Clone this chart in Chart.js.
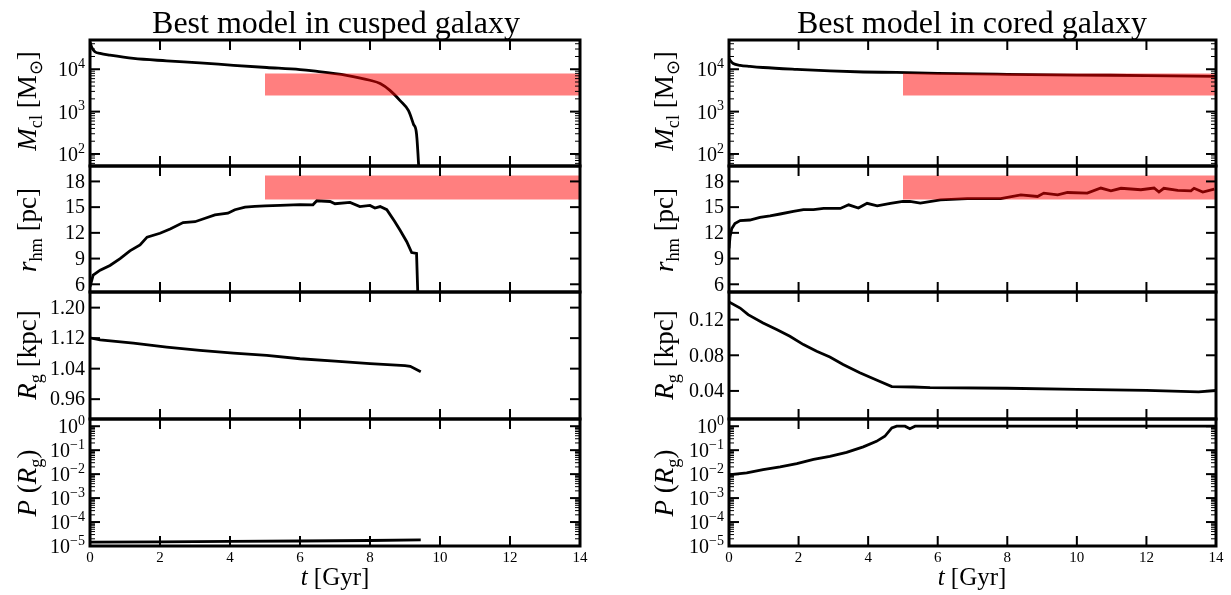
<!DOCTYPE html>
<html lang="en">
<head>
<meta charset="UTF-8">
<title>Best model in cusped / cored galaxy</title>
<script src="https://cdn.jsdelivr.net/npm/chart.js"></script>
<style>
    body { margin: 0; background: #fff; }
    #page { position: relative; width: 1231px; height: 595px; overflow: hidden; font-family: "Liberation Serif", serif; color: #000; }
    canvas { position: absolute; }
    .txt { position: absolute; white-space: nowrap; transform: translate(-50%, -50%); z-index: 2; }
    .rot { transform: translate(-50%, -50%) rotate(-90deg); }
    .sub { font-size: 0.68em; position: relative; top: 0.3em; }
    .title { font-size: 32px; }
    .ylab { font-size: 27px; }
    .xlab { font-size: 25px; }
</style>
</head>
<body>
<div id="page">
    <div class="txt title" style="left:336px; top:22px">Best model in cusped galaxy</div>
    <div class="txt title" style="left:972px; top:22px">Best model in cored galaxy</div>

    <!-- y axis titles, left column -->
    <div class="txt rot ylab" style="left:27px; top:101px"><i>M</i><span class="sub">cl</span> [M<span class="sub">⊙</span>]</div>
    <div class="txt rot ylab" style="left:27px; top:230px"><i>r</i><span class="sub">hm</span> [pc]</div>
    <div class="txt rot ylab" style="left:27px; top:355px"><i>R</i><span class="sub">g</span> [kpc]</div>
    <div class="txt rot ylab" style="left:27px; top:483px"><i>P</i> (<i>R</i><span class="sub">g</span>)</div>
    <!-- y axis titles, right column -->
    <div class="txt rot ylab" style="left:664px; top:101px"><i>M</i><span class="sub">cl</span> [M<span class="sub">⊙</span>]</div>
    <div class="txt rot ylab" style="left:664px; top:230px"><i>r</i><span class="sub">hm</span> [pc]</div>
    <div class="txt rot ylab" style="left:664px; top:355px"><i>R</i><span class="sub">g</span> [kpc]</div>
    <div class="txt rot ylab" style="left:664px; top:483px"><i>P</i> (<i>R</i><span class="sub">g</span>)</div>

    <div class="txt xlab" style="left:335px; top:577px"><i>t</i> [Gyr]</div>
    <div class="txt xlab" style="left:972px; top:577px"><i>t</i> [Gyr]</div>
</div>

<script>
    // ---- ticks ----
    const timeTicks = [0, 2, 4, 6, 8, 10, 12, 14];
    const timeLabels = ['0', '2', '4', '6', '8', '10', '12', '14'];
    const massTicks = [1e2, 1e3, 1e4];
    const massExps = ['2', '3', '4'];
    const rhmTicks = [6, 9, 12, 15, 18];
    const rhmLabels = ['6', '9', '12', '15', '18'];
    const rgCuspTicks = [0.96, 1.04, 1.12, 1.20];
    const rgCuspLabels = ['0.96', '1.04', '1.12', '1.20'];
    const rgCoreTicks = [0.04, 0.08, 0.12];
    const rgCoreLabels = ['0.04', '0.08', '0.12'];
    const probTicks = [1e-5, 1e-4, 1e-3, 1e-2, 1e-1, 1];
    const probExps = ['\u22125', '\u22124', '\u22123', '\u22122', '\u22121', '0'];

    // ---- observed ranges (red bands) ----
    const bandT = [5, 14];
    const massBand = [2400, 7900];
    const rhmBand = [15.9, 18.7];

    // ---- cusped galaxy ----
    const cuspMassT = [0, 0.05, 0.14, 0.29, 0.57, 1.24, 2.19, 3.14, 4.1, 5.05, 6.0, 6.38, 7.33, 8.0, 8.29, 8.57, 8.86, 9.1, 9.24, 9.33, 9.42];
    const cuspMass = [44000, 33000, 25800, 23600, 21500, 18000, 15800, 14100, 12400, 11000, 9800, 9100, 7200, 5500, 4600, 3170, 1820, 1050, 510, 295, 20];

    const cuspRhmT = [0, 0.09, 0.29, 0.57, 0.86, 1.14, 1.43, 1.63, 2.0, 2.29, 2.66, 3.0, 3.29, 3.57, 3.94, 4.14, 4.43, 4.71, 5.0, 5.43, 6.0, 6.37, 6.48, 6.86, 7.0, 7.43, 7.71, 8.0, 8.14, 8.29, 8.48, 8.71, 8.86, 9.05, 9.19, 9.33, 9.38];
    const cuspRhm = [5.7, 7.06, 7.65, 8.2, 9.0, 9.9, 10.6, 11.5, 11.95, 12.45, 13.2, 13.3, 13.7, 14.1, 14.3, 14.7, 15.0, 15.1, 15.15, 15.2, 15.3, 15.27, 15.74, 15.66, 15.4, 15.55, 15.07, 15.2, 14.9, 15.07, 14.7, 13.3, 12.3, 10.97, 9.7, 9.6, 3];

    const cuspRgT = [0, 0.29, 1.24, 2.19, 3.14, 4.1, 5.05, 6.0, 7.0, 8.0, 9.0, 9.15, 9.45];
    const cuspRg = [1.121, 1.1157, 1.107, 1.0966, 1.088, 1.081, 1.075, 1.066, 1.06, 1.053, 1.048, 1.046, 1.032];

    const cuspProbT = [0, 2, 4, 6, 8, 9.45];
    const cuspProb = [1.45e-5, 1.5e-5, 1.55e-5, 1.62e-5, 1.7e-5, 1.8e-5];

    // ---- cored galaxy ----
    const coreMassT = [0, 0.05, 0.12, 0.32, 0.6, 0.98, 1.95, 2.9, 3.86, 4.82, 6, 8, 10, 12, 14];
    const coreMass = [18000, 15500, 13700, 12400, 11700, 11000, 9900, 9100, 8600, 8400, 8000, 7600, 7300, 7100, 6800];

    const coreRhmT = [0, 0.03, 0.08, 0.17, 0.32, 0.6, 0.89, 1.18, 1.47, 1.85, 2.14, 2.43, 2.72, 3.2, 3.44, 3.72, 3.97, 4.26, 4.64, 5.0, 5.2, 5.5, 6.08, 6.85, 7.81, 8.39, 8.87, 9.05, 9.45, 9.73, 10.3, 10.69, 10.98, 11.27, 11.84, 12.22, 12.36, 12.5, 12.9, 13.28, 13.37, 13.62, 13.95];
    const coreRhm = [10.2, 11.55, 12.5, 13.1, 13.43, 13.5, 13.8, 13.98, 14.2, 14.5, 14.7, 14.7, 14.85, 14.85, 15.27, 14.9, 15.45, 15.15, 15.45, 15.66, 15.66, 15.47, 15.86, 16.0, 16.0, 16.44, 16.24, 16.64, 16.44, 16.71, 16.64, 17.23, 16.91, 17.2, 17.03, 17.23, 16.76, 17.2, 16.95, 16.9, 17.2, 16.76, 17.1];

    const coreRgT = [0, 0.32, 0.55, 0.98, 1.37, 1.75, 2.14, 2.52, 2.9, 3.28, 3.76, 4.24, 4.68, 5.3, 5.78, 8, 10, 12, 13.5, 14];
    const coreRg = [0.1398, 0.133, 0.1256, 0.1163, 0.1088, 0.1013, 0.092, 0.0846, 0.078, 0.0697, 0.0604, 0.0522, 0.0448, 0.0444, 0.0437, 0.043, 0.0418, 0.0406, 0.039, 0.0405];

    const coreProbT = [0, 0.05, 0.51, 0.98, 1.47, 1.95, 2.43, 2.9, 3.38, 3.86, 4.24, 4.48, 4.68, 4.82, 5.06, 5.2, 5.35, 14];
    const coreProb = [0.0087, 0.0095, 0.0112, 0.0155, 0.02, 0.0275, 0.041, 0.0556, 0.081, 0.138, 0.234, 0.38, 0.85, 1.0, 1.0, 0.78, 1.0, 1.0];

    // panel geometry (plot area in page pixels)
    const cols = [{ L: 90, W: 490 }, { L: 729, W: 487 }];
    const rows = [{ T: 40, H: 126 }, { T: 166, H: 126 }, { T: 292, H: 127 }, { T: 419, H: 127 }];
    const PAD = { left: 85, right: 12, top: 12, bottom: 12 };
    const FONT = '"Liberation Serif", serif';

    const axesPlugin = {
        id: 'axesPlugin',
        afterDraw(chart, args, o) {
            const ctx = chart.ctx, a = chart.chartArea;
            const xs = chart.scales.x, ys = chart.scales.y;
            const seg = (x1, y1, x2, y2, w) => {
                ctx.lineWidth = w;
                ctx.beginPath(); ctx.moveTo(x1, y1); ctx.lineTo(x2, y2); ctx.stroke();
            };
            ctx.save();
            ctx.strokeStyle = '#000';
            timeTicks.forEach(t => {
                const px = xs.getPixelForValue(t);
                seg(px, a.top, px, a.top + 10, 2);
                seg(px, a.bottom, px, a.bottom - 10, 2);
            });
            o.ticks.forEach(v => {
                const py = ys.getPixelForValue(v);
                seg(a.left, py, a.left + 10, py, 2);
                seg(a.right, py, a.right - 10, py, 2);
            });
            if (o.log) {
                const e0 = Math.floor(Math.log10(ys.min)), e1 = Math.ceil(Math.log10(ys.max));
                for (let e = e0; e <= e1; e++) {
                    for (let m = 2; m <= 9; m++) {
                        const v = m * Math.pow(10, e);
                        if (v < ys.min || v > ys.max) continue;
                        const py = ys.getPixelForValue(v);
                        seg(a.left, py, a.left + 5, py, 1);
                        seg(a.right, py, a.right - 5, py, 1);
                    }
                }
            }
            ctx.lineWidth = 3;
            ctx.strokeRect(a.left, a.top, a.width, a.height);

            // tick labels
            ctx.fillStyle = '#000';
            ctx.textBaseline = 'middle';
            const xr = a.left - 5;
            o.ticks.forEach((v, i) => {
                const py = ys.getPixelForValue(v);
                if (o.log) {
                    ctx.font = '14px ' + FONT;
                    const w = ctx.measureText(o.labels[i]).width;
                    ctx.textAlign = 'left';
                    ctx.fillText(o.labels[i], xr - w, py - 5);
                    ctx.font = '20px ' + FONT;
                    ctx.textAlign = 'right';
                    ctx.fillText('10', xr - w, py + 2);
                } else {
                    ctx.font = '20px ' + FONT;
                    ctx.textAlign = 'right';
                    ctx.fillText(o.labels[i], xr, py + 1);
                }
            });
            if (o.xLabels) {
                ctx.font = '15px ' + FONT;
                ctx.textAlign = 'center';
                ctx.textBaseline = 'top';
                timeTicks.forEach((t, i) => {
                    ctx.fillText(timeLabels[i], xs.getPixelForValue(t), a.bottom + 5);
                });
            }
            ctx.restore();
        }
    };

    function pts(xs, ys) {
        return xs.map((x, i) => ({ x: x, y: ys[i] }));
    }

    function makePanel(col, row, p) {
        const c = cols[col], r = rows[row];
        const bottomPad = row === 3 ? 40 : PAD.bottom;
        const cv = document.createElement('canvas');
        cv.width = c.W + PAD.left + PAD.right;
        cv.height = r.H + PAD.top + bottomPad;
        cv.style.left = (c.L - PAD.left) + 'px';
        cv.style.top = (r.T - PAD.top) + 'px';
        document.getElementById('page').appendChild(cv);

        const datasets = [{
            data: pts(p.t, p.v),
            borderColor: '#000',
            borderWidth: 2.8,
            pointRadius: 0,
            tension: p.smooth ? 0.4 : 0,
            cubicInterpolationMode: p.smooth ? 'monotone' : 'default',
            fill: false,
            order: 1
        }];
        if (p.band) {
            datasets.push({
                data: pts(bandT, [p.band[1], p.band[1]]),
                borderColor: 'transparent',
                borderWidth: 0,
                backgroundColor: 'rgba(255,0,0,0.5)',
                pointRadius: 0,
                fill: { value: p.band[0] },
                order: 0
            });
        }

        new Chart(cv, {
            type: 'line',
            data: { datasets: datasets },
            plugins: [axesPlugin],
            options: {
                responsive: false,
                animation: false,
                events: [],
                layout: { padding: { left: PAD.left, right: PAD.right, top: PAD.top, bottom: bottomPad } },
                plugins: {
                    legend: { display: false },
                    tooltip: { enabled: false },
                    axesPlugin: { ticks: p.ticks, labels: p.labels, log: p.log, xLabels: row === 3 }
                },
                scales: {
                    x: { type: 'linear', min: 0, max: 14, display: false },
                    y: { type: p.log ? 'logarithmic' : 'linear', min: p.min, max: p.max, display: false }
                }
            }
        });
    }

    // cusped
    makePanel(0, 0, { t: cuspMassT, v: cuspMass, band: massBand, log: true, smooth: true, min: 52, max: 49000, ticks: massTicks, labels: massExps });
    makePanel(0, 1, { t: cuspRhmT, v: cuspRhm, band: rhmBand, log: false, min: 5.1, max: 19.8, ticks: rhmTicks, labels: rhmLabels });
    makePanel(0, 2, { t: cuspRgT, v: cuspRg, log: false, min: 0.908, max: 1.241, ticks: rgCuspTicks, labels: rgCuspLabels });
    makePanel(0, 3, { t: cuspProbT, v: cuspProb, log: true, min: 1e-5, max: 2, ticks: probTicks, labels: probExps });
    // cored
    makePanel(1, 0, { t: coreMassT, v: coreMass, band: massBand, log: true, smooth: true, min: 52, max: 49000, ticks: massTicks, labels: massExps });
    makePanel(1, 1, { t: coreRhmT, v: coreRhm, band: rhmBand, log: false, min: 5.1, max: 19.8, ticks: rhmTicks, labels: rhmLabels });
    makePanel(1, 2, { t: coreRgT, v: coreRg, log: false, min: 0.0085, max: 0.151, ticks: rgCoreTicks, labels: rgCoreLabels });
    makePanel(1, 3, { t: coreProbT, v: coreProb, log: true, min: 1e-5, max: 2, ticks: probTicks, labels: probExps });
</script>
</body>
</html>
